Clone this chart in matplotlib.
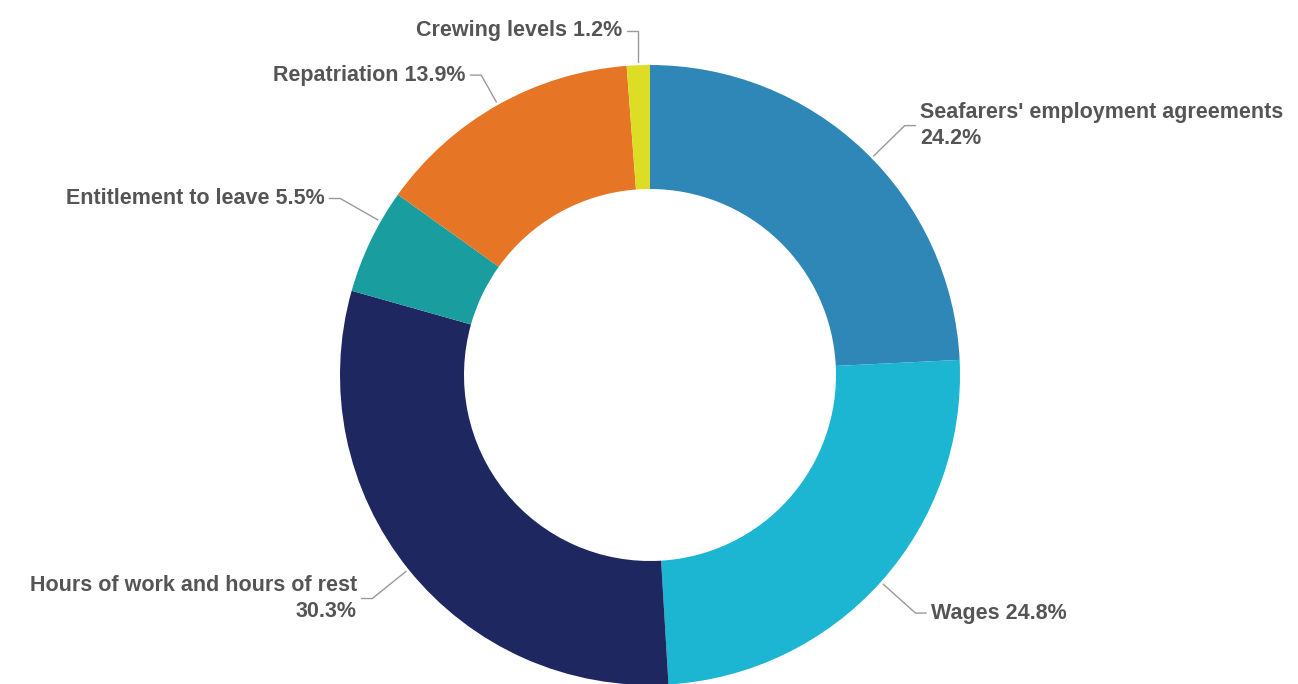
import matplotlib.pyplot as plt
import numpy as np

# Share of complaints by category (%), clockwise from 12 o'clock
categories = ["Seafarers' employment agreements", "Wages",
              "Hours of work and hours of rest", "Entitlement to leave",
              "Repatriation", "Crewing levels"]
shares = [24.2, 24.8, 30.3, 5.5, 13.9, 1.2]
colors = ["#2f87b8", "#1cb5d2", "#1f2760", "#1a9d9e", "#e67626", "#dedd25"]

# label text as shown next to each slice
label_text = ["Seafarers' employment agreements\n24.2%", "Wages 24.8%",
              "Hours of work and hours of rest\n30.3%", "Entitlement to leave 5.5%",
              "Repatriation 13.9%", "Crewing levels 1.2%"]

W, H = 1298, 684
cx, cy, R = 650, 375, 310

fig = plt.figure(figsize=(W / 100, H / 100), dpi=100)
ax = fig.add_axes([0, 0, 1, 1])

wedges, _ = ax.pie(shares, colors=colors, startangle=90, counterclock=False,
                   radius=1, wedgeprops=dict(width=0.4, edgecolor="none"))

# pie() resets the limits, so set them afterwards
ax.set_xlim(-cx / R, (W - cx) / R)
ax.set_ylim(-(H - cy) / R, cy / R)
ax.set_aspect("equal")
ax.axis("off")

# leader tweaks: (angle nudge in degrees, elbow radius)
leader = {0: (-2, 1.15), 3: (-4, 1.15), 4: (0, 1.11)}

line_col = "#9a9a9a"
text_col = "#555555"
for i, (w, txt) in enumerate(zip(wedges, label_text)):
    nudge, r_elbow = leader.get(i, (0, 1.15))
    ang = np.deg2rad((w.theta1 + w.theta2) / 2 + nudge)
    c, s = np.cos(ang), np.sin(ang)
    x0, y0 = 1.01 * c, 1.01 * s
    if abs(c) < 0.1:
        # small slice at the top: straight up, then hook left
        x1, y1 = x0, 1.11
    else:
        x1, y1 = r_elbow * c, r_elbow * s
    side = 1 if c > 0 else -1
    x2 = x1 + side * 0.035
    ax.plot([x0, x1, x2], [y0, y1, y1], color=line_col, lw=1.0,
            solid_capstyle="round")
    ha = "left" if side > 0 else "right"
    ax.text(x2 + side * 0.015, y1, txt, ha=ha, va="center", color=text_col,
            fontsize=15.5, fontweight="bold", family="Liberation Sans",
            linespacing=1.3)

fig.savefig("out.png", dpi=100, facecolor="white")
